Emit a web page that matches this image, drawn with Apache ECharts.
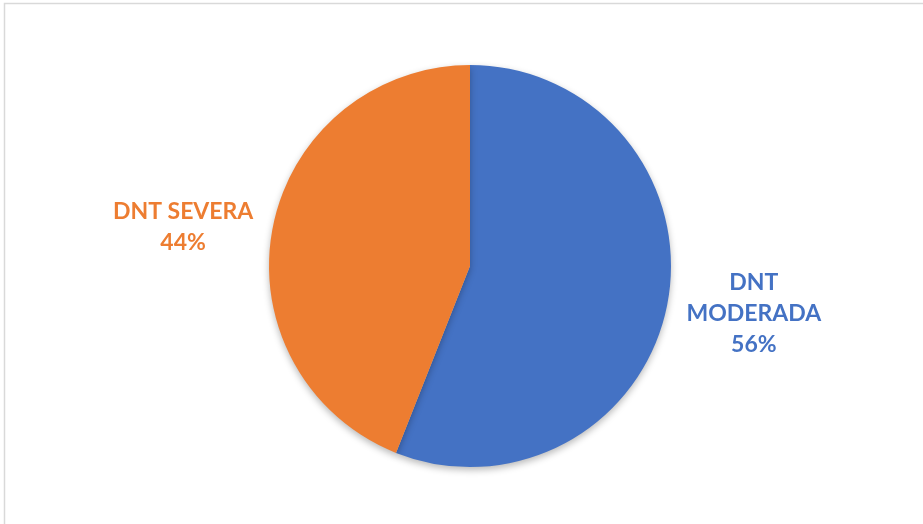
<!DOCTYPE html>
<html>
<head>
<meta charset="utf-8">
<style>
  html, body { margin: 0; padding: 0; background: #fff; }
  #chart { width: 923px; height: 524px; }
</style>
<script src="https://cdn.jsdelivr.net/npm/echarts@6/dist/echarts.min.js"></script>
</head>
<body>
<div id="chart"></div>
<script>
// Distribución de DNT por severidad
const categories = ['DNT MODERADA', 'DNT SEVERA'];
const labelLines = ['DNT\nMODERADA', 'DNT SEVERA'];
const values = [56, 44];
const colors = ['#4472C4', '#ED7D31'];

const CX = 470, CY = 266, R = 201, LABEL_R = 289;
// small nudges of each label from its radial anchor point
const labelNudge = [[0, -7], [-3, 15]];
const total = values.reduce((a, b) => a + b, 0);

// mid-angle of each slice (clockwise from 12 o'clock)
const midAngles = [];
let acc = 0;
values.forEach(v => {
  midAngles.push((acc + v / 2) / total * 2 * Math.PI);
  acc += v;
});

const chart = echarts.init(document.getElementById('chart'), null, { renderer: 'canvas' });
chart.setOption({
  backgroundColor: '#fff',
  animation: false,
  graphic: [{
    type: 'rect',
    shape: { x: 4.5, y: 3.5, width: 1000, height: 1000 },
    style: { fill: 'none', stroke: '#d9d9d9', lineWidth: 1.5 },
    silent: true
  }],
  series: [{
    type: 'pie',
    center: [CX, CY],
    radius: [0, R],
    startAngle: 90,
    clockwise: true,
    itemStyle: {
      borderWidth: 0,
      shadowBlur: 7,
      shadowOffsetY: 3,
      shadowColor: 'rgba(0,0,0,0.28)'
    },
    label: {
      show: true,
      position: 'outside',
      fontFamily: 'Lato',
      fontWeight: 'bold',
      fontSize: 23,
      lineHeight: 31,
      align: 'center',
      formatter: p => labelLines[p.dataIndex] + '\n' + p.value + '%'
    },
    labelLine: { show: false },
    labelLayout: p => {
      const i = p.dataIndex;
      const a = midAngles[i];
      return {
        x: CX + LABEL_R * Math.sin(a) + labelNudge[i][0],
        y: CY - LABEL_R * Math.cos(a) + labelNudge[i][1],
        align: 'center',
        verticalAlign: 'middle'
      };
    },
    data: categories.map((name, i) => ({
      name,
      value: values[i],
      itemStyle: { color: colors[i] },
      label: { color: colors[i] }
    }))
  }]
});
</script>
</body>
</html>
